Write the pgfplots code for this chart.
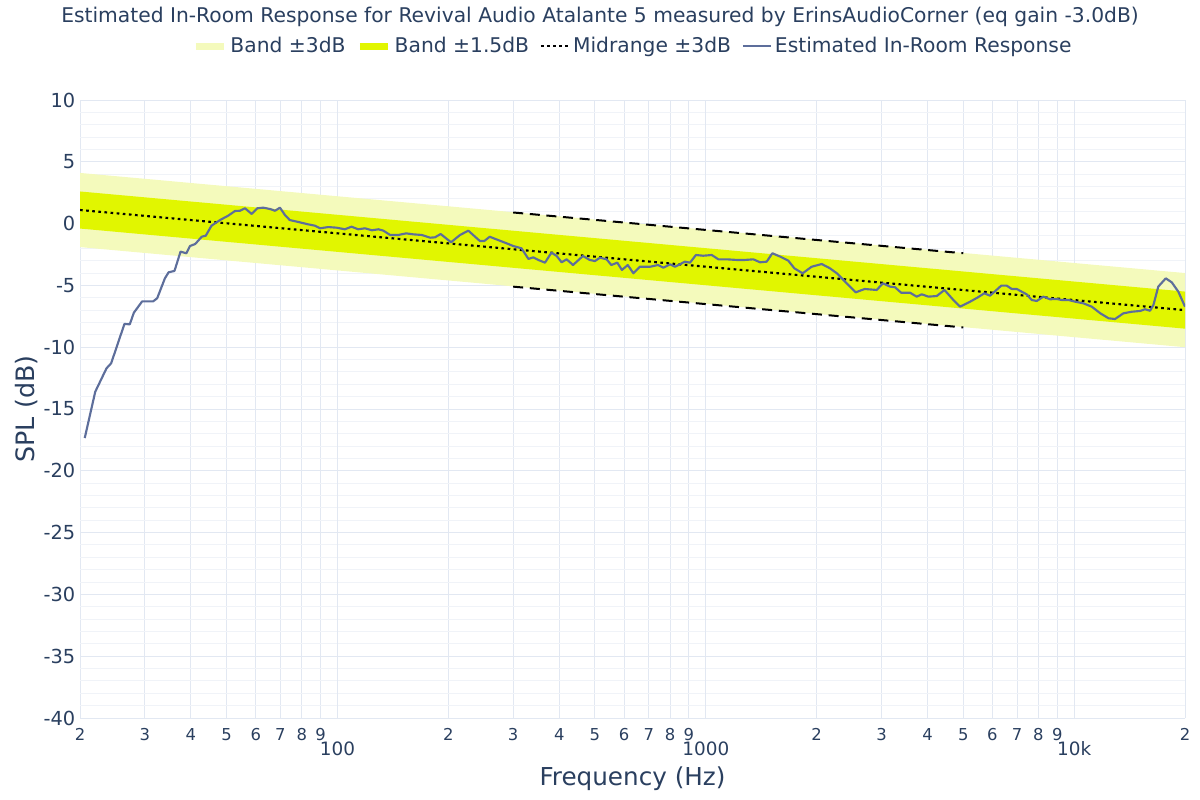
\documentclass[border=0pt]{standalone}
\usepackage{pgfplots}
\pgfplotsset{compat=1.18}
\usepackage{fontspec}
\setmainfont{DejaVu Sans}
\definecolor{txt}{RGB}{42,63,95}
\definecolor{gridmaj}{RGB}{226,232,242}
\definecolor{gridmin}{RGB}{240,243,248}
\definecolor{lightband}{RGB}{244,250,188}
\definecolor{darkband}{RGB}{225,246,0}
\definecolor{curve}{RGB}{93,110,155}
\newcommand{\bigtick}[1]{{\fontsize{13.8pt}{15pt}\selectfont #1}}
\begin{document}
\begin{tikzpicture}
\path[use as bounding box] (-60pt,-61.5pt) rectangle (840pt,538.5pt);
\begin{axis}[
  at={(0,0)}, anchor=south west,
  scale only axis,
  width=828.75pt, height=463.5pt,
  xmode=log,
  xmin=20, xmax=20000,
  ymin=-40, ymax=10,
  axis line style={draw=none},
  major tick length=0pt, minor tick length=0pt,
  tick style={draw=none},
  xtick={20,30,40,50,60,70,80,90,200,300,400,500,600,700,800,900,2000,3000,4000,5000,6000,7000,8000,9000,20000},
  xticklabels={2,3,4,5,6,7,8,9,2,3,4,5,6,7,8,9,2,3,4,5,6,7,8,9,2},
  extra x ticks={100,1000,10000},
  extra x tick labels={\bigtick{100},\bigtick{1000},\bigtick{10k}},
  extra x tick style={grid=major, tick label style={yshift=-9.5pt}},
  minor xtick={},
  ytick={-40,-35,-30,-25,-20,-15,-10,-5,0,5,10},
  yticklabels={-40,-35,-30,-25,-20,-15,-10,-5,0,5,10},
  minor y tick num=4,
  xmajorgrids, ymajorgrids, yminorgrids,
  major grid style={gridmaj, line width=0.75pt},
  minor grid style={gridmin, line width=0.75pt},
  xticklabel style={font=\fontsize{12.3pt}{14pt}\selectfont, text=txt, yshift=-4.5pt},
  yticklabel style={font=\fontsize{14.5pt}{16pt}\selectfont, text=txt},
  xlabel={Frequency (Hz)},
  ylabel={SPL (dB)},
  every axis x label/.style={at={(axis description cs:0.5,-0.099)}, anchor=center, font=\fontsize{18.5pt}{20pt}\selectfont, text=txt},
  every axis y label/.style={at={(axis description cs:-0.048,0.5)}, rotate=90, anchor=center, font=\fontsize{19pt}{21pt}\selectfont, text=txt},
  title={Estimated In-Room Response for Revival Audio Atalante 5 measured by ErinsAudioCorner (eq gain -3.0dB)},
  title style={at={(axis description cs:0.4706,1.121)}, anchor=center, font=\fontsize{15.2pt}{17pt}\selectfont, text=txt},
  legend columns=4,
  legend style={at={(axis description cs:0.5005,1.087)}, anchor=center, draw=none, fill=none,
    font=\fontsize{15.2pt}{17pt}\selectfont, text=txt,
    /tikz/every even column/.append style={column sep=6pt}},
  legend cell align=left,
  clip=true,
]
% Band +-3 dB
\addplot[draw=none, fill=lightband,
  legend image code/.code={\draw[draw=lightband, line width=5.5pt] (0cm,0cm) -- (0.75cm,0cm);}]
  coordinates {(20,4.1) (20000,-4.0) (20000,-10.0) (20,-1.9)} -- cycle;
\addlegendentry{Band ±3dB}
% Band +-1.5 dB
\addplot[draw=none, fill=darkband,
  legend image code/.code={\draw[draw=darkband, line width=5.5pt] (0cm,0cm) -- (0.75cm,0cm);}]
  coordinates {(20,2.6) (20000,-5.5) (20000,-8.5) (20,-0.4)} -- cycle;
\addlegendentry{Band ±1.5dB}
% midline (dotted)
\addplot[black, line width=1.6pt, dash pattern=on 2pt off 2.6pt,
  legend image code/.code={\draw[black, line width=1.6pt, dash pattern=on 2pt off 2.6pt] (0cm,0cm) -- (0.75cm,0cm);}]
  coordinates {(20,1.1) (20000,-7.0)};
\addlegendentry{Midrange ±3dB}
% midrange +-3 dB (dashed)
\addplot[black, line width=1.5pt, dash pattern=on 7.5pt off 5pt, forget plot]
  coordinates {(300,0.9) (5000,-2.4)};
\addplot[black, line width=1.5pt, dash pattern=on 7.5pt off 5pt, forget plot]
  coordinates {(300,-5.1) (5000,-8.4)};
% estimated in-room response
\addplot[curve, line width=1.6pt, line join=round,
  legend image code/.code={\draw[curve, line width=1.6pt] (0cm,0cm) -- (0.75cm,0cm);}] table {
f db
20.6 -17.35
22.0 -13.60
23.6 -11.71
24.3 -11.30
26.4 -8.12
27.3 -8.15
28.0 -7.21
29.5 -6.29
31.6 -6.29
32.4 -6.04
34.0 -4.43
34.8 -3.94
36.1 -3.83
37.5 -2.27
38.9 -2.40
39.8 -1.81
41.1 -1.65
42.8 -1.06
43.9 -0.98
45.5 -0.17
48.0 0.29
50.5 0.64
52.7 1.02
54.4 1.04
56.1 1.24
58.5 0.78
60.6 1.24
62.9 1.29
65.6 1.18
67.7 1.04
69.8 1.29
72.0 0.70
74.2 0.29
79.1 0.10
83.3 -0.06
86.9 -0.17
89.7 -0.38
94.4 -0.28
99.5 -0.33
104.7 -0.46
109.2 -0.25
113.8 -0.46
118.8 -0.38
124.0 -0.54
129.2 -0.46
133.2 -0.57
139.0 -0.92
146.4 -0.92
153.6 -0.79
160.8 -0.87
169.4 -0.92
178.4 -1.14
184.0 -1.11
190.6 -0.84
203.4 -1.51
215.2 -0.92
226.6 -0.57
243.6 -1.41
250.4 -1.41
259 -1.06
273 -1.33
287.6 -1.59
299.8 -1.81
316 -2.00
330 -2.86
340.2 -2.73
351 -2.94
366 -3.16
381 -2.35
393.8 -2.62
406 -3.13
419 -2.89
436 -3.35
464 -2.62
484 -2.94
500 -3.03
516 -2.76
538 -2.89
554 -3.35
575 -3.16
592 -3.75
614 -3.35
636 -4.02
662 -3.49
706 -3.49
742 -3.35
767 -3.57
800 -3.29
825 -3.49
851 -3.29
877 -3.08
906 -3.16
940 -2.54
984 -2.60
1038 -2.54
1082 -2.89
1140 -2.89
1212 -2.94
1278 -2.94
1346 -2.89
1404 -3.13
1463 -3.08
1516 -2.40
1592 -2.67
1675 -3.00
1740 -3.62
1832 -4.02
1938 -3.49
2064 -3.27
2174 -3.62
2268 -4.02
2390 -4.70
2552 -5.56
2700 -5.29
2910 -5.37
3026 -4.83
3164 -5.10
3264 -5.15
3390 -5.59
3584 -5.59
3738 -5.91
3858 -5.72
4020 -5.91
4236 -5.86
4446 -5.37
4700 -6.18
4900 -6.72
5216 -6.32
5468 -5.98
5704 -5.64
5910 -5.83
6080 -5.51
6340 -5.02
6562 -5.02
6770 -5.29
6986 -5.29
7208 -5.51
7432 -5.72
7672 -6.18
7916 -6.26
8248 -5.91
8602 -6.12
8970 -6.10
9256 -6.18
9646 -6.18
10076 -6.32
10594 -6.45
11164 -6.72
11780 -7.26
12400 -7.66
12914 -7.72
13602 -7.26
14334 -7.13
15100 -7.07
15578 -6.93
16070 -7.05
16414 -6.59
16920 -5.10
17730 -4.43
18408 -4.75
19184 -5.51
20000 -6.72
};
\addlegendentry{Estimated In-Room Response}
\end{axis}
\end{tikzpicture}
\end{document}
